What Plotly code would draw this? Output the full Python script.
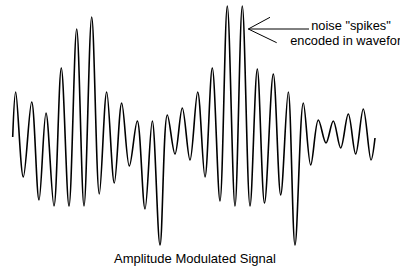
import plotly.graph_objects as go

# Extremum points of the waveform (time, amplitude)
time_pts = [12.7, 15.7, 23.3, 31.7, 39.0, 46.0, 54.0, 61.3, 69.0, 76.7, 84.0, 91.7,
            99.3, 106.7, 114.3, 121.7, 129.3, 137.3, 145.0, 152.3, 160.0, 167.3,
            175.0, 182.3, 190.0, 197.7, 205.0, 212.3, 220.0, 227.3, 235.0, 242.3,
            250.0, 257.3, 264.5, 273.3, 280.7, 288.3, 295.0, 303.3, 310.7, 318.3,
            326.0, 333.3, 340.7, 348.3, 355.7, 363.3, 371.0, 375.0]
amp_pts = [0, 45, -40, 35, -63, 24, -69, 69, -69, 108, -69, 120,
           -57, 45, -46, 34, -29, 16, -72, 16, -108, 22,
           -17, 29, -23, 45, -40, 69, -64, 131, -69, 131,
           -69, 68, -66, 63, -58, 45, -108, 34, -28, 17,
           -6, 16, -11, 23, -17, 28, -23, -1]

note_lines = ['noise "spikes"', 'encoded in waveform']
title_text = 'Amplitude Modulated Signal'

FONT = 'Arial, Liberation Sans, sans-serif'

fig = go.Figure()
fig.add_trace(go.Scatter(
    x=time_pts, y=amp_pts, mode='lines',
    line=dict(color='black', width=1.6, shape='spline', smoothing=1.0),
    hoverinfo='skip', showlegend=False, cliponaxis=False))

# annotation text (clipped at the right edge of the plot area like the original)
fig.add_trace(go.Scatter(
    x=[351, 351], y=[137 - 26.5, 137 - 41.5], mode='text',
    text=note_lines, textposition='middle center',
    textfont=dict(family=FONT, size=12.8, color='black'),
    hoverinfo='skip', showlegend=False, cliponaxis=True))

line_style = dict(color='black', width=1)
vx, vy = 248.3, 137 - 29
for (ex, ey) in [(270, 137 - 17.3), (276.7, 137 - 42.7), (309, 137 - 29)]:
    fig.add_shape(type='line', x0=vx, y0=vy, x1=ex, y1=ey, xref='x', yref='y', line=line_style)

fig.add_annotation(x=195, y=137 - 258, xref='x', yref='y', text=title_text,
                   showarrow=False, font=dict(family=FONT, size=13, color='black'),
                   xanchor='center', yanchor='middle')

fig.update_layout(
    width=411, height=266, margin=dict(l=0, r=11, t=0, b=0),
    paper_bgcolor='white', plot_bgcolor='white',
    xaxis=dict(range=[0, 400], visible=False, fixedrange=True),
    yaxis=dict(range=[137 - 266, 137], visible=False, fixedrange=True),
    showlegend=False)

fig.write_html('out.html', config={'displayModeBar': False},
               post_script="document.body.style.margin='0';")
